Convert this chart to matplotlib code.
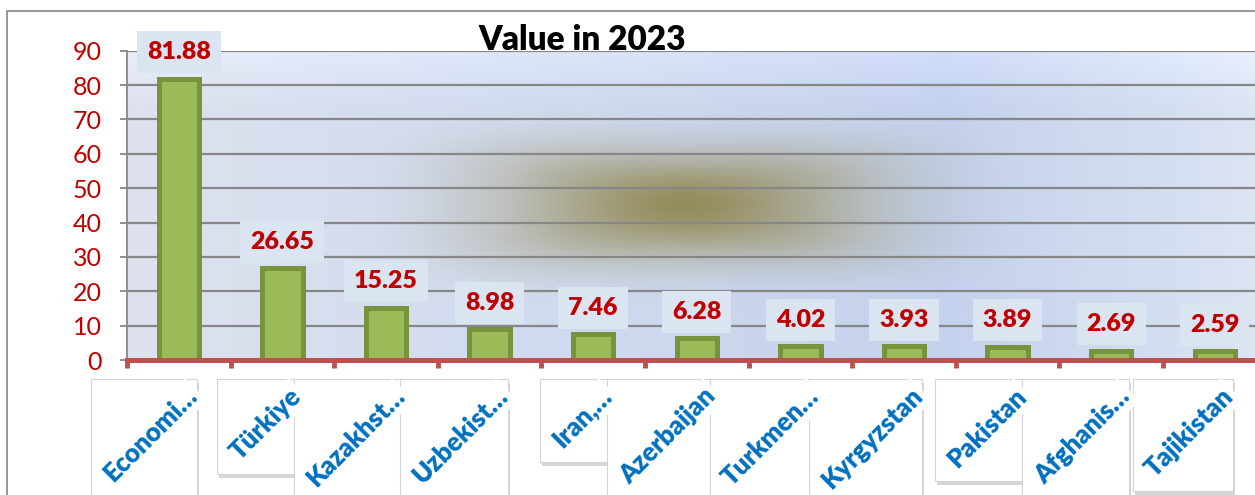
import numpy as np
import matplotlib.pyplot as plt
import matplotlib.transforms as mtransforms
from matplotlib.patches import Rectangle
from matplotlib.lines import Line2D

plt.rcParams['font.family'] = ['Lato', 'DejaVu Sans']

# data
countries = ['Economi…', 'Türkiye', 'Kazakhst…', 'Uzbekist…', 'Iran,…', 'Azerbaijan',
             'Turkmen…', 'Kyrgyzstan', 'Pakistan', 'Afghanis…', 'Tajikistan']
values = [81.88, 26.65, 15.25, 8.98, 7.46, 6.28, 4.02, 3.93, 3.89, 2.69, 2.59]
yticks = [0, 10, 20, 30, 40, 50, 60, 70, 80, 90]

W, H = 1255, 495
fig = plt.figure(figsize=(W / 100, H / 100), dpi=100)
ax = fig.add_axes([127 / W, 1 - 360 / H, 1139.6 / W, 309.3 / H])

# plot area background: blue gradient with a blurred olive patch
nx, ny = 600, 200
xx, yy = np.meshgrid(np.linspace(0, 1, nx), np.linspace(0, 1, ny))
stops = [0, 0.45, 0.72, 0.88, 1]
base = np.zeros((ny, nx, 3))
for c, vals in enumerate([(222, 206, 197, 210, 222), (226, 216, 210, 220, 229), (239, 238, 238, 240, 243)]):
    base[:, :, c] = np.interp(xx, stops, vals)
base += 12 * np.clip((yy - 0.82) / 0.18, 0, 1)[:, :, None]
cx, cy = 0.49, 0.50
w = 0.4 * np.exp(-(((xx - cx) / 0.21) ** 4 + ((yy - cy) / 0.22) ** 4)) \
    + 0.25 * np.exp(-(((xx - cx) / 0.13) ** 4 + ((yy - cy) / 0.15) ** 4)) \
    + 0.3 * np.exp(-((xx - cx) / 0.07) ** 2 - ((yy - cy) / 0.09) ** 2)
w = np.clip(w, 0, 0.95)[:, :, None]
olive = np.array([146, 137, 84])
img = (base * (1 - w) + olive * w) / 255
ax.imshow(np.clip(img, 0, 1), extent=(0, 1, 0, 1), transform=ax.transAxes,
          aspect='auto', origin='lower', zorder=0, interpolation='bilinear')

x = np.arange(len(countries))
ax.bar(x, values, width=0.39, color='#9BBB59', edgecolor='#77933C', linewidth=3.6, zorder=2)

for i, v in enumerate(values):
    ax.annotate(f'{v:.2f}', (i, v), xytext=(0, 19), textcoords='offset points',
                ha='center', va='center', fontsize=18, fontweight='heavy', color='#C00000',
                bbox=dict(boxstyle='square,pad=0.4', fc='#DBE5F1', ec='none'), zorder=3)

ax.set_xlim(-0.5, len(countries) - 0.5)
ax.set_ylim(0, 90)
ax.set_axisbelow(True)
ax.set_yticks(yticks)
ax.yaxis.grid(True, color='#878787', linewidth=1.6)
ax.tick_params(axis='y', length=5, width=1.3, color='#878787', pad=13,
               labelsize=18, labelcolor='#C00000')

for s in ['top', 'right']:
    ax.spines[s].set_visible(False)
ax.spines['left'].set_color('#878787')
ax.spines['left'].set_linewidth(1.3)
ax.spines['bottom'].set_color('#C0504D')
ax.spines['bottom'].set_linewidth(3.6)

ax.set_xticks(x, countries, rotation=45, ha='right', fontsize=18.5, fontweight='heavy', color='#0070C0')
ax.set_xticks(np.arange(-0.5, len(countries), 1), minor=True)
ax.tick_params(axis='x', which='major', length=0, pad=17)
ax.tick_params(axis='x', which='minor', length=6, width=3.5, color='#C0504D')
shift = mtransforms.ScaledTranslation(0.23, 0, fig.dpi_scale_trans)
for lbl in ax.get_xticklabels():
    lbl.set_transform(lbl.get_transform() + shift)
    lbl.set_bbox(dict(boxstyle='square,pad=0.15', fc='white', ec='none'))

fig.text(582 / W, 1 - 50 / H, 'Value in 2023', ha='center', va='baseline',
         fontsize=24, fontweight='heavy', color='black')

# chart frame
fig.add_artist(Line2D([7 / W, 7 / W, 1], [0, 1 - 11 / H, 1 - 11 / H],
                      transform=fig.transFigure, color='#868686', linewidth=1.2))

# square boxes with shadow around each rotated category label
fig.canvas.draw()
inv = fig.transFigure.inverted()
for lbl in ax.get_xticklabels():
    bb = lbl.get_window_extent()
    (x0, y0), (x1, y1) = inv.transform([[bb.x0 - 8, bb.y0 - 10], [bb.x1 - 5, bb.y1 + 5]])
    ax.add_patch(Rectangle((x0 + 2 / W, y0 - 4 / H), x1 - x0, y1 - y0, transform=fig.transFigure,
                           fc='#BBBBBB', ec='none', alpha=0.6, clip_on=False, zorder=0.2))
    ax.add_patch(Rectangle((x0, y0), x1 - x0, y1 - y0, transform=fig.transFigure,
                           fc='white', ec='#D4D4D4', lw=0.8, clip_on=False, zorder=0.3))

fig.savefig('out.png', dpi=100)
